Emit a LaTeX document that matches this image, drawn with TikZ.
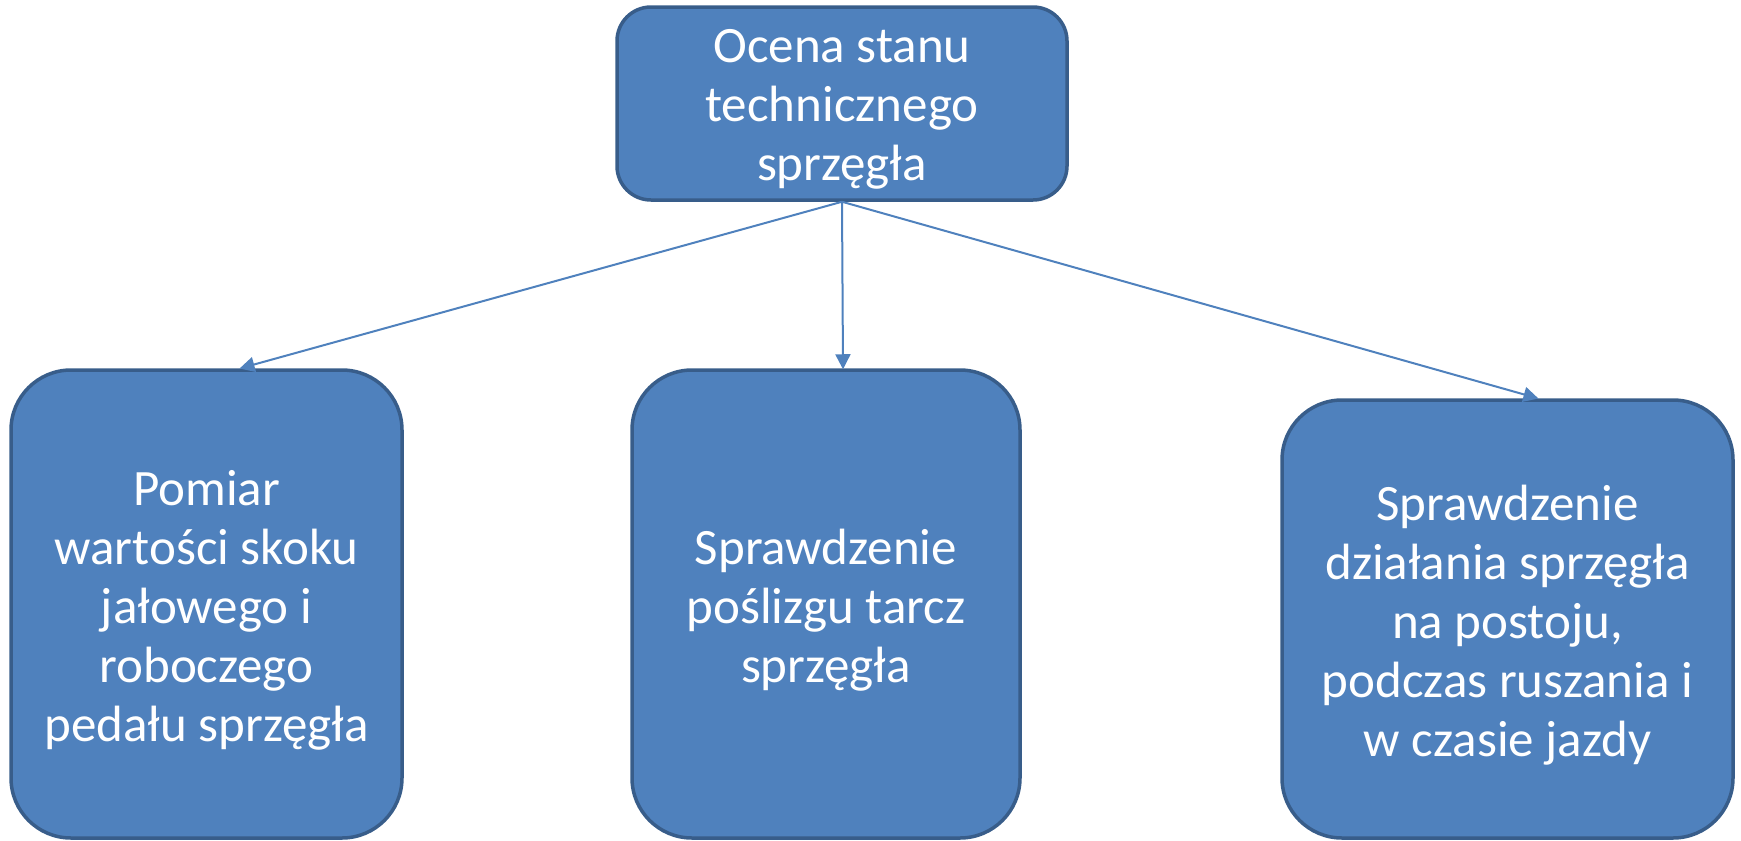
\documentclass[tikz,border=0pt]{standalone}
\usepackage{fontspec}
\setmainfont{Carlito}
\usetikzlibrary{arrows.meta}
\definecolor{boxfill}{HTML}{4F81BD}
\definecolor{boxline}{HTML}{385D8A}
\tikzset{
  box/.style={draw=boxline, line width=3.5pt, fill=boxfill, rounded corners=#1,
    inner sep=0pt},
  box/.default=60pt,
  boxtext/.style={text=white, align=center, inner sep=0pt,
    font=\fontsize{51}{59}\selectfont},
  link/.style={draw=boxfill, line width=2pt,
    -{Triangle[length=15pt,width=15pt]}, shorten >=-1pt}
}
\begin{document}
\begin{tikzpicture}[x=1pt,y=-1pt]
  \useasboundingbox (0,0) rectangle (1741,841);
  % root box
  \node[box=34pt, minimum width=450pt, minimum height=193pt] (top) at (842,103.5) {};
  \node[boxtext] (toptext) at ([yshift=-6pt]top.center)
    {Ocena stanu\\technicznego\\sprzęgła};
  % three checks
  \node[box, minimum width=391pt, minimum height=468pt] (left) at (206.5,604) {};
  \node[boxtext] (lefttext) at ([yshift=-6pt]left.center)
    {Pomiar\\wartości skoku\\jałowego i\\roboczego\\pedału sprzęgła};
  \node[box, minimum width=388pt, minimum height=468pt] (mid) at (826,604) {};
  \node[boxtext] (midtext) at ([yshift=-6pt]mid.center)
    {Sprawdzenie\\poślizgu tarcz\\sprzęgła};
  \node[box, minimum width=451pt, minimum height=438pt] (right) at (1507.5,619) {};
  \node[boxtext] (righttext) at ([yshift=-6pt]right.center)
    {Sprawdzenie\\działania sprzęgła\\na postoju,\\podczas ruszania i\\w czasie jazdy};
  % connectors
  \draw[link] (top.south) -- ([xshift=34pt]left.north);
  \draw[link] (top.south) -- ([xshift=17pt]mid.north);
  \draw[link] (top.south) -- ([xshift=30pt]right.north);
\end{tikzpicture}
\end{document}
